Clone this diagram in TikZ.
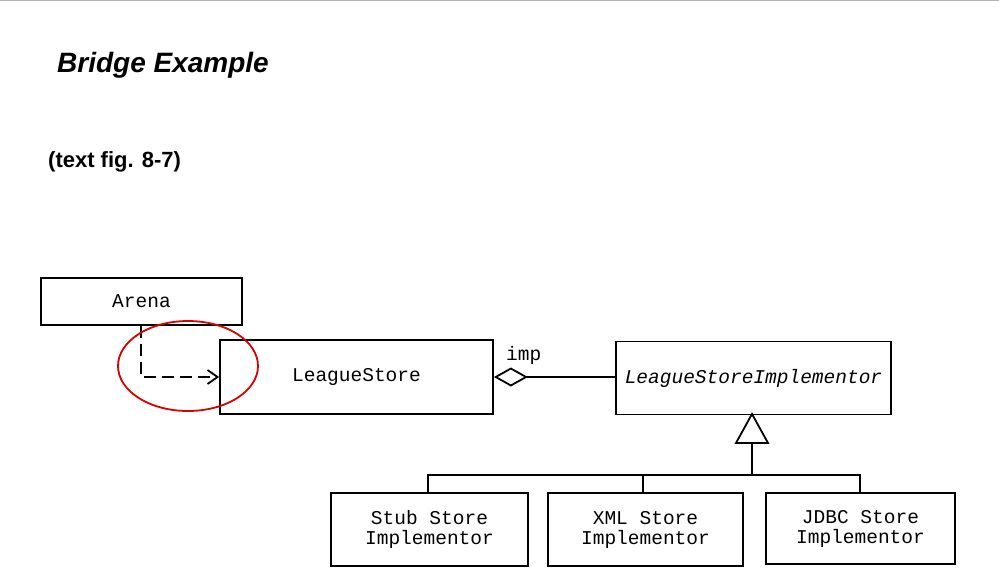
\documentclass[tikz,border=0pt]{standalone}
\usepackage{fontspec}
\setmainfont{Liberation Sans}
\newfontfamily\cour{Liberation Mono}
\usetikzlibrary{arrows.meta}
\begin{document}
\begin{tikzpicture}[x=1pt,y=-1pt,
  box/.style={draw,line width=1.8pt,fill=white,inner sep=0pt,font=\cour\fontsize{19.5}{20}\selectfont,align=center},
  ln/.style={line width=1.8pt}]
\useasboundingbox (0,0) rectangle (999,578);
\draw[gray!60,line width=1pt] (0,1) -- (999,1);
\node[anchor=west,inner sep=0pt,font=\bfseries\itshape\fontsize{28}{32}\selectfont] (title) at (57,65) {Bridge Example};
\node[anchor=west,inner sep=0pt,font=\bfseries\fontsize{22}{26}\selectfont] (sub) at (48,162) {(text fig. 8-7)};
\node[box,minimum width=201pt,minimum height=47pt] (arena) at (141.5,301.5) {Arena};
\node[box,minimum width=273pt,minimum height=74pt] (ls) at (356.5,377) {LeagueStore};
\node[box,minimum width=275pt,minimum height=73pt,font=\cour\itshape\fontsize{19.5}{20}\selectfont] (lsi) at (753.5,378) {LeagueStoreImplementor};
\node[box,minimum width=197pt,minimum height=73pt] (stub) at (429.5,529.5) {Stub Store\\Implementor};
\node[box,minimum width=195pt,minimum height=73pt] (xml) at (645.5,529.5) {XML Store\\Implementor};
\node[box,minimum width=189pt,minimum height=71pt] (jdbc) at (860.5,528.5) {JDBC Store\\Implementor};
% dashed dependency
\coordinate (bend) at (141,377);
\draw[ln,dash pattern=on 12pt off 6pt,-{Straight Barb[length=10pt,width=14pt]}] (arena.south -| bend) -- (bend) -- (ls.west |- bend);
% aggregation
\draw[ln,{Diamond[open,length=34pt,width=19pt]}-] (ls.east |- 0,377) -- (lsi.west |- 0,377);
\node[font=\cour\fontsize{19.5}{20}\selectfont,anchor=west,inner sep=0pt] (imp) at (506,355) {imp};
% generalization
\coordinate (tb) at (752,443);
\coordinate (bus) at (752,475);
\draw[ln,fill=white] (752,414) -- (768,443) -- (736,443) -- cycle;
\draw[ln] (tb) -- (bus);
\draw[ln] (stub.north -| 428,0) -- (428,475) -- (860,475) -- (jdbc.north -| 860,0);
\draw[ln] (643,475) -- (xml.north -| 643,0);
% red ellipse
\draw[red!85!black,line width=1.8pt] (188,366) ellipse [x radius=70, y radius=45];
\end{tikzpicture}
\end{document}
